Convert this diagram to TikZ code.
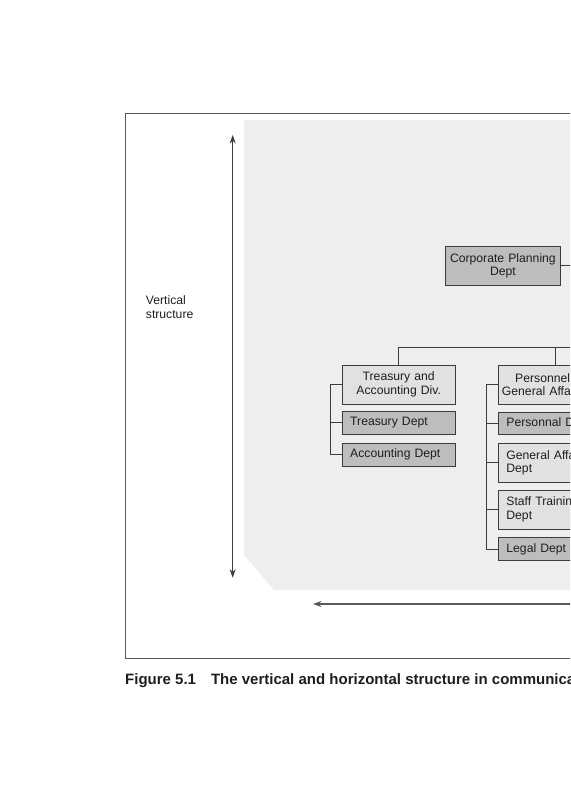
\documentclass[tikz,border=0pt]{standalone}
\usepackage{fontspec}
\setmainfont{Liberation Sans}
\usetikzlibrary{arrows.meta}
\definecolor{panel}{HTML}{EFEEEF}
\definecolor{lightbox}{HTML}{E1E1E1}
\definecolor{darkbox}{HTML}{BDBDBD}
\definecolor{edge}{HTML}{3C3C3C}
\definecolor{framec}{HTML}{5A5A5A}
\definecolor{txt}{HTML}{1E1E1E}
\begin{document}
\begin{tikzpicture}[x=1pt,y=-1pt,
  >={Stealth[length=8.5pt,width=6pt]},
  box/.style={draw=edge, line width=0.7pt, minimum width=113pt, inner xsep=8pt, inner ysep=0pt,
    text width=97pt, font=\fontsize{12.2}{13.4}\selectfont, text=txt},
  divbox/.style={box, fill=lightbox, minimum height=39pt, align=center, inner xsep=1pt, text width=111pt},
  deptbox/.style={box, fill=darkbox, minimum height=22.5pt, align=left},
  tallbox/.style={box, fill=lightbox, minimum height=39pt, align=left},
  link/.style={draw=edge, line width=0.7pt}
]
\useasboundingbox (0,0) rectangle (570,800);
\clip (0,0) rectangle (570,800);

% background panel and frame
\fill[panel] (244,120) -- (620,120) -- (620,590) -- (274,590) -- (244,555) -- cycle;
\draw[framec, line width=1pt] (125,113) rectangle (640,658);

% axis arrows
\coordinate (vt) at (232.7,135);
\coordinate (vb) at (232.7,577.7);
\draw[edge, line width=0.8pt, <->] (vt) -- (vb);
\coordinate (hR) at (590,604);
\coordinate (hL) at (313,604);
\draw[framec, line width=1.1pt, ->] (hR) -- (hL);

\node[anchor=base west, inner sep=0pt, align=left, text=txt,
  font=\fontsize{12.2}{14}\selectfont] (vlabel) at (145.7,318) {Vertical\\structure};

% boxes
\node[divbox, fill=darkbox, minimum width=114.3pt, minimum height=38.7pt, text width=112.3pt] (corp) at (502.9,265.7) {Corporate Planning\\Dept};

\node[divbox] (tad) at (398.7,384.5) {Treasury and\\Accounting Div.};
\node[deptbox] (td) at (398.7,422.8) {Treasury Dept};
\node[deptbox] (ad) at (398.7,454.7) {Accounting Dept};

\node[divbox] (pga) at (554.9,384.5) {Personnel and\\General Affairs Div.};
\node[deptbox] (pd) at (554.9,423.4) {Personnal Dept};
\node[tallbox] (gad) at (554.9,462.8) {General Affairs\\Dept};
\node[tallbox] (std) at (554.9,509.5) {Staff Training\\Dept};
\node[deptbox, minimum height=23.4pt] (ld) at (554.9,549) {Legal Dept};

% connectors
\coordinate (corpR) at (590,265.7);
\draw[link] (corp.east) -- (corpR);
\coordinate (busR) at (590,347.3);
\draw[link] (tad.north) |- (busR);
\draw[link] (pga.north) -- (pga.north |- busR);

\draw[link] (tad.west) -- ++(-11.6,0) |- (ad.west);
\draw[link] (td.west) -- ++(-11.6,0);

\draw[link] (pga.west) -- ++(-11.7,0) |- (ld.west);
\draw[link] (pd.west) -- ++(-11.7,0);
\draw[link] (gad.west) -- ++(-11.7,0);
\draw[link] (std.west) -- ++(-11.7,0);

% caption
\node[anchor=base west, inner sep=0pt, text=txt, font=\fontsize{15}{17}\selectfont\bfseries] (cap) at (125,684)
  {Figure 5.1\hspace{15pt}The vertical and horizontal structure in communication};
\end{tikzpicture}
\end{document}
